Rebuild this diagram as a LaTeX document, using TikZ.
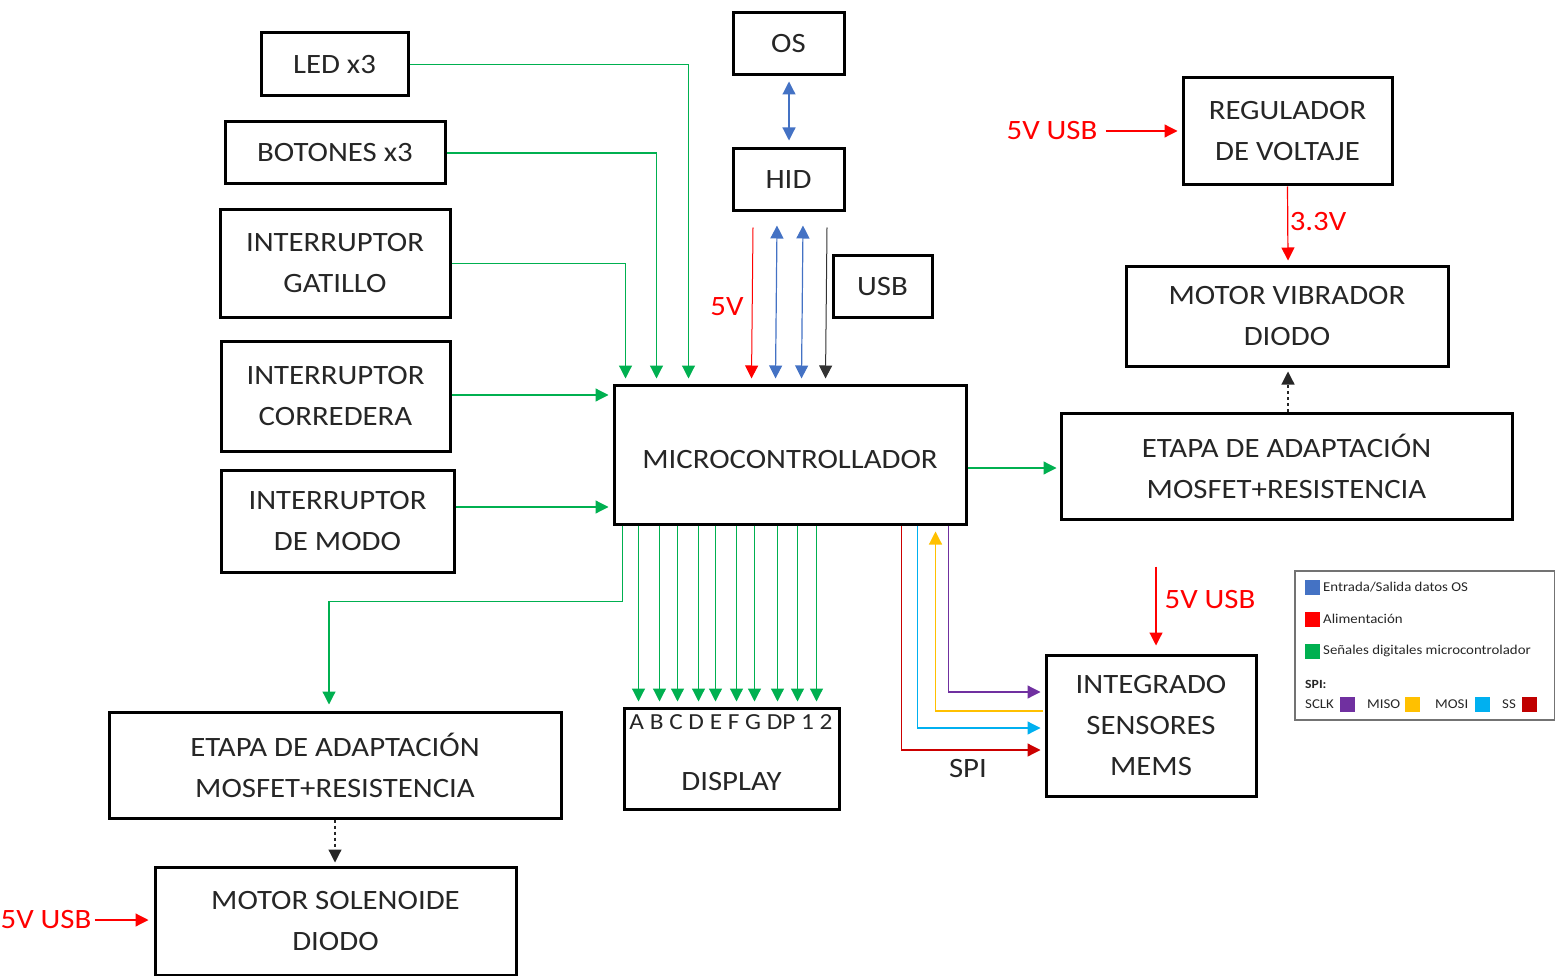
\documentclass[tikz,border=0pt]{standalone}
\usepackage{fontspec}
\setmainfont{Carlito}[FakeStretch=1.1]
\usetikzlibrary{arrows.meta,calc}
\definecolor{cg}{HTML}{00B050}
\definecolor{cb}{HTML}{4472C4}
\definecolor{cr}{HTML}{FF0000}
\definecolor{cp}{HTML}{7030A0}
\definecolor{cy}{HTML}{FFC000}
\definecolor{cc}{HTML}{00B0F0}
\definecolor{cd}{HTML}{C00000}
\definecolor{tx}{HTML}{262626}
\tikzset{
  bx/.style={draw=black, line width=3pt, align=center, inner sep=0pt, text=tx,
    font=\fontsize{28}{41}\selectfont},
  lbl/.style={inner sep=0pt, font=\fontsize{28}{34}\selectfont},
  tipa/.tip={Triangle[length=13pt,width=13pt]},
  gl/.style={draw=cg, line width=1.2pt, -{tipa}, fill=none},
  wire/.style={line width=1.2pt, fill=none},
  lsq/.style={minimum width=15pt, minimum height=15pt, inner sep=0pt},
  ltx/.style={inner sep=0pt, anchor=west, text=tx, font=\fontsize{13.5}{15}\selectfont}
}
\begin{document}
\begin{tikzpicture}[x=1pt,y=-1pt]
\useasboundingbox (0,0) rectangle (1555,976);
% boxes
\node[bx, minimum width=147pt, minimum height=63pt] (led) at (334.5,64.5) {LED x3};
\node[bx, minimum width=220pt, minimum height=62pt] (bot) at (335,153) {BOTONES x3};
\node[bx, minimum width=230pt, minimum height=107pt] (gat) at (335,263.5) {INTERRUPTOR\\GATILLO};
\node[bx, minimum width=229pt, minimum height=110pt] (cor) at (335.5,396) {INTERRUPTOR\\CORREDERA};
\node[bx, minimum width=233pt, minimum height=102pt] (modo) at (337.5,521) {INTERRUPTOR\\DE MODO};
\node[bx, minimum width=111pt, minimum height=62pt] (os) at (788.5,44) {OS};
\node[bx, minimum width=111pt, minimum height=62pt] (hid) at (788.5,180) {HID};
\node[bx, minimum width=99pt, minimum height=61pt] (usb) at (882.5,286.5) {USB};
\node[bx, minimum width=352pt, minimum height=139pt] (mcu) at (790,454.5) {};
\node[lbl, text=tx] (mcut) at (790,460) {MICROCONTROLLADOR};
\node[bx, minimum width=209pt, minimum height=107pt] (reg) at (1287.5,131.5) {REGULADOR\\DE VOLTAJE};
\node[bx, minimum width=322pt, minimum height=99pt] (vib) at (1287,316.5) {MOTOR VIBRADOR\\DIODO};
\node[bx, minimum width=451pt, minimum height=106pt] (etr) at (1286.5,466) {ETAPA DE ADAPTACIÓN\\MOSFET+RESISTENCIA};
\node[bx, minimum width=210pt, minimum height=141pt] (mems) at (1151,725.5) {INTEGRADO\\SENSORES\\MEMS};
\node[bx, minimum width=215pt, minimum height=101pt] (disp) at (731.5,758.5) {};
\node[inner sep=0pt, text=tx, font=\fontsize{23}{26}\selectfont] (pins) at (731,722) {A B C D E F G DP 1 2};
\node[lbl, text=tx] (dispt) at (731.5,782) {DISPLAY};
\node[bx, minimum width=452pt, minimum height=106pt] (etl) at (335,765) {ETAPA DE ADAPTACIÓN\\MOSFET+RESISTENCIA};
\node[bx, minimum width=361pt, minimum height=108pt] (sol) at (335.5,921) {MOTOR SOLENOIDE\\DIODO};
% labels
\node[lbl, text=cr] (v5a) at (1052,131) {5V USB};
\node[lbl, text=cr] (v33) at (1318,222) {3.3V};
\node[lbl, text=cr] (v5m) at (727,307) {5V};
\node[lbl, text=cr] (v5c) at (1210,600) {5V USB};
\node[lbl, text=cr] (v5s) at (46,920) {5V USB};
\node[lbl, text=tx] (spi) at (968,769) {SPI};
% green inputs to MCU
\draw[gl] (led.east) -| ($(mcu.north west)+(76,-5)$);
\draw[gl] (bot.east) -| ($(mcu.north west)+(44,-5)$);
\draw[gl] (gat.east) -| ($(mcu.north west)+(13,-5)$);
\draw[gl] ($(cor.east)+(0,-1)$) -- ($(cor.east -| mcu.west)+(-4,-1)$);
\draw[gl] ($(modo.east)+(0,-14)$) -- ($(modo.east -| mcu.west)+(-4,-14)$);
% OS - HID
\draw[wire, draw=cb, {tipa}-{tipa}] ($(os.south)+(0.5,5)$) -- ($(hid.north)+(0.5,-7)$);
% HID / USB to MCU
\draw[wire, draw=cr, line width=1pt, -{tipa}] ($(hid.south)+(-35.5,15)$) -- ($(mcu.north west)+(139,-5)$);
\draw[wire, draw=cb, {tipa}-{tipa}] ($(hid.south)+(-11.5,13)$) -- ($(mcu.north west)+(163,-5)$);
\draw[wire, draw=cb, {tipa}-{tipa}] ($(hid.south)+(14.5,13)$) -- ($(mcu.north west)+(189,-5)$);
\draw[wire, draw=black!80, line width=1pt, -{tipa}] ($(hid.south)+(38.5,15)$) -- ($(mcu.north west)+(213,-5)$);
% power regulator
\draw[wire, draw=cr, -{tipa}] ($(v5a.east)+(8,0)$) -- ($(reg.west)+(-4,-0.5)$);
\draw[wire, draw=cr, -{tipa}] (reg.south) -- ($(vib.north)+(1,-5)$);
\draw[wire, draw=black!85, dash pattern=on 3pt off 3pt, -{tipa}] ($(etr.north)+(1.5,0)$) -- ($(vib.south)+(1,4)$);
\draw[gl] ($(mcu.east)+(0,13.5)$) -- ($(mcu.east -| etr.west)+(-3,13.5)$);
% display lines
\foreach \dx in {26,47,65,86,103,124,142,165,185,204}{
  \draw[gl] ($(mcu.south west)+(\dx,0)$) -- ($(mcu.south west |- disp.north)+(\dx,-5)$);
}
% left etapa
\draw[gl] ($(mcu.south west)+(10,0)$) |- ($(etl.north)+(-6,-109)$) -- ($(etl.north)+(-6,-6)$);
\draw[wire, draw=black!85, dash pattern=on 3pt off 3pt, -{tipa}] (etl.south) -- ($(sol.north)+(-0.5,-3)$);
\draw[wire, draw=cr, -{tipa}] ($(v5s.east)+(3,0)$) -- ($(sol.west)+(-5,-1)$);
% SPI
\draw[wire, draw=cr!80!black, -{tipa}] ($(mcu.south west)+(289,0)$) |- ($(mems.west)+(-4,24.5)$);
\draw[wire, draw=cc, -{tipa}] ($(mcu.south west)+(305,0)$) |- ($(mems.west)+(-4,2.5)$);
\draw[wire, draw=cy, -{tipa}] ($(mems.west)+(-2,-14.5)$) -| ($(mcu.south west)+(323,6)$);
\draw[wire, draw=cp, -{tipa}] ($(mcu.south west)+(336,0)$) |- ($(mems.west)+(-4,-33.5)$);
\draw[wire, draw=cr, -{tipa}] ($(mems.north)+(5,-87)$) -- ($(mems.north)+(5,-8)$);
% legend
\node[draw=black!55, line width=1.5pt, minimum width=260pt, minimum height=149pt, inner sep=0pt] (leg) at (1425,645.5) {};
\node[lsq, fill=cb] (sq1) at (1312,587) {};
\node[ltx] (t1) at (1323,587) {Entrada/Salida datos OS};
\node[lsq, fill=cr] (sq2) at (1312,619) {};
\node[ltx] (t2) at (1323,619) {Alimentación};
\node[lsq, fill=cg] (sq3) at (1312,651) {};
\node[ltx] (t3) at (1323,651) {Señales digitales microcontrolador};
\node[ltx, font=\bfseries\fontsize{12.5}{14}\selectfont] (t4) at (1305,684) {SPI:};
\node[ltx] (t5) at (1305,704) {SCLK};
\node[lsq, fill=cp] (sq5) at (1347,704) {};
\node[ltx] (t6) at (1367,704) {MISO};
\node[lsq, fill=cy] (sq6) at (1412,704) {};
\node[ltx] (t7) at (1435,704) {MOSI};
\node[lsq, fill=cc] (sq7) at (1482,704) {};
\node[ltx] (t8) at (1502,704) {SS};
\node[lsq, fill=cd] (sq8) at (1529,704) {};
\end{tikzpicture}
\end{document}
